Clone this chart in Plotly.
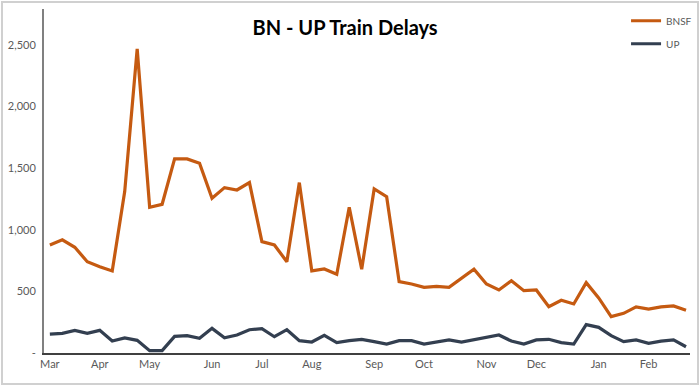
import plotly.graph_objects as go

weeks = list(range(52))
bnsf = [877, 918, 858, 741, 700, 666, 1310, 2468, 1183, 1207,
        1575, 1575, 1540, 1256, 1342, 1323, 1383, 904, 877, 741,
        1383, 666, 682, 639, 1183, 680, 1332, 1269, 579, 560,
        533, 541, 533, 606, 680, 560, 512, 587, 506, 512,
        376, 428, 398, 571, 447, 295, 322, 374, 357, 374,
        382, 347]
up = [154, 160, 184, 160, 184, 97, 122, 103, 19, 19,
      135, 141, 119, 200, 124, 146, 189, 197, 132, 189,
      100, 89, 143, 84, 100, 111, 92, 73, 100, 100,
      73, 92, 106, 89, 106, 124, 146, 97, 73, 106,
      111, 84, 73, 230, 208, 141, 92, 106, 79, 97,
      106, 51]
month_pos = [0, 4, 8, 13, 17, 21, 26, 30, 35, 39, 44, 48]
month_labels = ["Mar", "Apr", "May", "Jun", "Jul", "Aug", "Sep", "Oct", "Nov", "Dec", "Jan", "Feb"]
y_ticks = [0, 500, 1000, 1500, 2000, 2500]
y_labels = ["-", "500", "1,000", "1,500", "2,000", "2,500"]

FONT = "Lato"
fig = go.Figure()
fig.add_trace(go.Scatter(x=weeks, y=bnsf, mode="lines", name="BNSF",
                         legendgroup="a",
                         line=dict(color="#C55A11", width=3.2)))
fig.add_trace(go.Scatter(x=weeks, y=up, mode="lines", name="UP",
                         legendgroup="b",
                         line=dict(color="#333F50", width=3.2)))

fig.update_layout(
    width=700, height=386,
    margin=dict(l=44, r=10, t=9, b=33, autoexpand=False),
    paper_bgcolor="white", plot_bgcolor="white",
    font=dict(family=FONT, color="#595959", size=11),
    title=dict(text="<b>BN - UP Train Delays</b>", x=0.493, xanchor="center",
               y=0.928, yanchor="middle",
               font=dict(family=FONT, size=20, color="#000000")),
    showlegend=True,
    legend=dict(x=0.901, xanchor="left", y=1.008, yanchor="top",
                bgcolor="rgba(0,0,0,0)", itemwidth=30,
                font=dict(family=FONT, size=10, color="#595959"),
                tracegroupgap=4),
    xaxis=dict(range=[-0.47, 51.32], tickmode="array", tickvals=month_pos,
               ticktext=month_labels, showgrid=False, zeroline=False,
               showline=True, linecolor="#404040", linewidth=1.5, ticks="",
               tickfont=dict(size=11, color="#595959")),
    yaxis=dict(range=[0, 2792], tickmode="array", tickvals=y_ticks,
               ticktext=y_labels, showgrid=False, zeroline=False,
               showline=True, linecolor="#808080", linewidth=2, ticks="",
               ticklabelstandoff=4,
               tickfont=dict(size=11, color="#595959")),
    shapes=[dict(type="rect", xref="paper", yref="paper",
                 x0=-0.0650, x1=1.0124, y0=-0.0901, y1=1.0203,
                 line=dict(color="#D0D0D0", width=2), layer="below")],
)
fig.write_html("out.html")
